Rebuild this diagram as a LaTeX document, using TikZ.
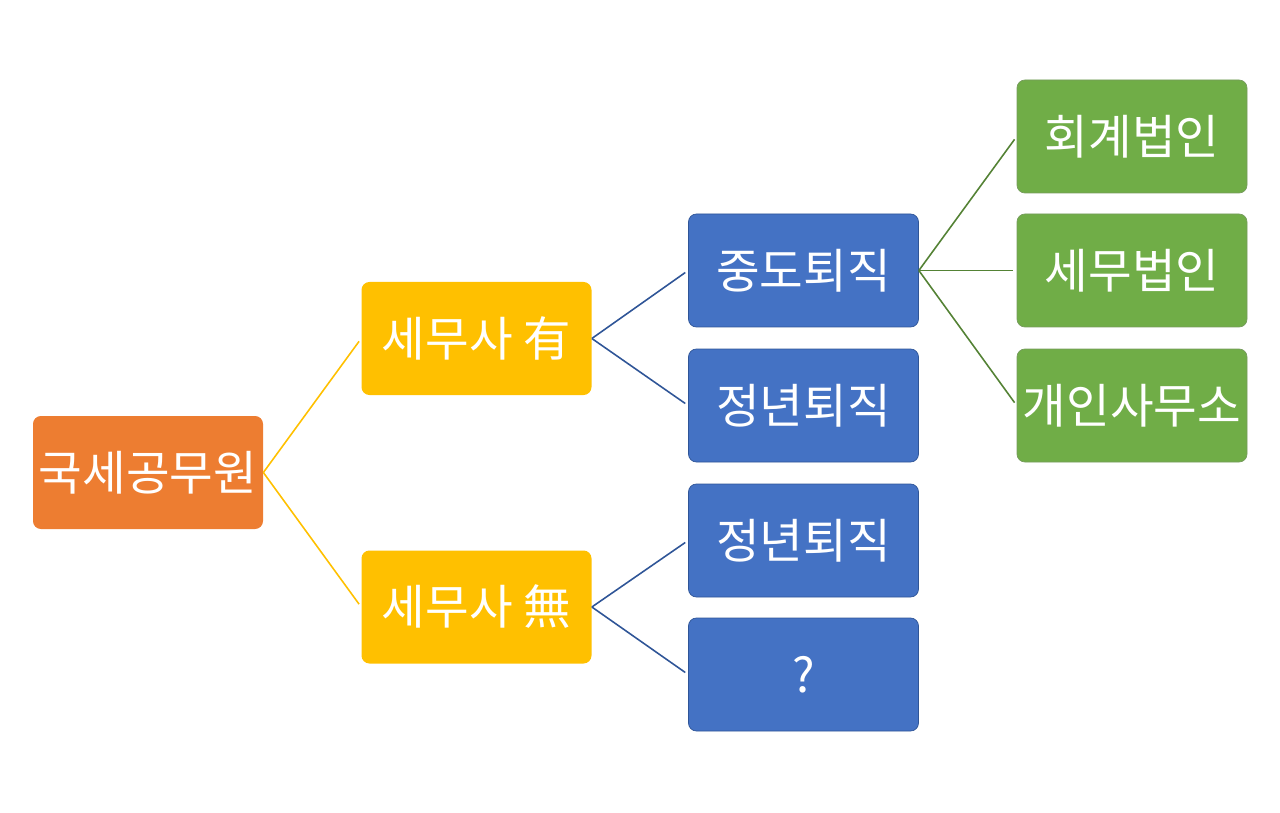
\documentclass[tikz,border=0pt]{standalone}
\usepackage{fontspec}
\setmainfont{Noto Sans CJK KR}
\definecolor{orangebox}{HTML}{ED7D31}
\definecolor{yellowbox}{HTML}{FFC000}
\definecolor{bluebox}{HTML}{4472C4}
\definecolor{blueline}{HTML}{2F5597}
\definecolor{greenbox}{HTML}{70AD47}
\definecolor{greenline}{HTML}{548235}
\begin{document}
\begin{tikzpicture}[
        box/.style={rounded corners=4.5pt,minimum width=4.6cm,minimum height=2.26cm,
            inner sep=0pt,text=white,font=\fontsize{27}{32}\selectfont},
        rootbox/.style={box,fill=orangebox},
        taxbox/.style={box,fill=yellowbox},
        retirebox/.style={box,fill=bluebox,draw=blueline,line width=0.4pt},
        officebox/.style={box,fill=greenbox,draw=greenline!80,line width=0.4pt},
        link/.style={line width=0.9pt,shorten >=2pt}]
        \useasboundingbox (0,0) rectangle (25.6,16.24);
        \node[rootbox] (root) at (2.96,6.79) {국세공무원};
        \node[taxbox] (taxyes) at (9.53,9.47) {세무사 有};
        \node[taxbox] (taxno) at (9.53,4.10) {세무사 無};
        \node[retirebox] (midway) at (16.07,10.83) {중도퇴직};
        \node[retirebox] (agea) at (16.07,8.13) {정년퇴직};
        \node[retirebox] (ageb) at (16.07,5.43) {정년퇴직};
        \node[retirebox] (unknown) at (16.07,2.75) {?};
        \node[officebox] (account) at (22.64,13.51) {회계법인};
        \node[officebox] (taxfirm) at (22.64,10.83) {세무법인};
        \node[officebox] (private) at (22.64,8.13) {개인사무소};
        % connectors
        \draw[link,yellowbox] (root.east) -- (taxyes.west);
        \draw[link,yellowbox] (root.east) -- (taxno.west);
        \draw[link,blueline] (taxyes.east) -- (midway.west);
        \draw[link,blueline] (taxyes.east) -- (agea.west);
        \draw[link,blueline] (taxno.east) -- (ageb.west);
        \draw[link,blueline] (taxno.east) -- (unknown.west);
        \draw[link,greenline] (midway.east) -- (account.west);
        \draw[link,greenline] (midway.east) -- (taxfirm.west);
        \draw[link,greenline] (midway.east) -- (private.west);
    \end{tikzpicture}
\end{document}
